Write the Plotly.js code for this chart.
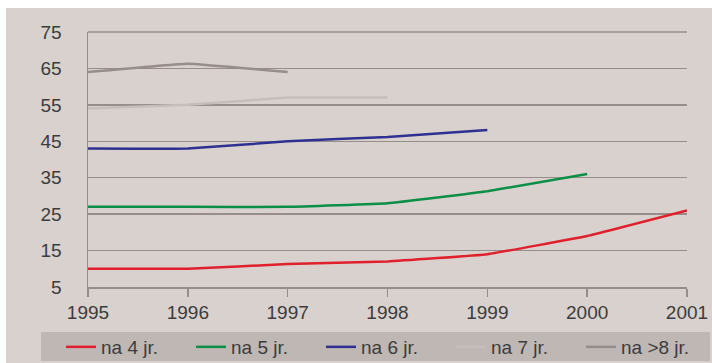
<!DOCTYPE html>
<html><head><meta charset="utf-8">
<script src="https://cdn.plot.ly/plotly-3.0.1.min.js"></script>
<style>html,body{margin:0;padding:0;background:#fff;}#chart{width:712px;height:363px;}</style>
</head><body><div id="chart"></div>
<script>
const years = [1995, 1996, 1997, 1998, 1999, 2000, 2001];
const seriesNames = ["na 4 jr.", "na 5 jr.", "na 6 jr.", "na 7 jr.", "na >8 jr."];
const na4 = [10, 10, 11.3, 12, 14, 19, 26];
const na5 = [27, 27, 27, 28, 31.3, 36];
const na6 = [43, 43, 45, 46.2, 48.1];
const na7 = [54, 55, 57, 57];
const na8 = [64, 66.3, 64];
const colors = ["#e0202c", "#0b8f47", "#2e3192", "#c6bebb", "#978d8a"];
const allSeries = [na4, na5, na6, na7, na8];

const traces = allSeries.map((vals, i) => ({
  type: "scatter", mode: "lines",
  x: years.slice(0, vals.length), y: vals,
  name: seriesNames[i],
  line: {color: colors[i], width: 2.5, shape: "spline", smoothing: 0.25}
}));

const L = 88, R = 687, T = 32, B = 287;
const W = R - L, H = B - T;
const px = v => (v - L) / W;
const py = v => (B - v) / H;

const layout = {
  width: 712, height: 363,
  margin: {l: L, r: 712 - R, t: T, b: 363 - B, pad: 0, autoexpand: false},
  paper_bgcolor: "#ffffff",
  plot_bgcolor: "rgba(0,0,0,0)",
  font: {family: "Liberation Sans, Arial, sans-serif", size: 19, color: "#3c3c3c"},
  showlegend: true,
  xaxis: {
    range: [1995, 2001], tickvals: years, ticktext: years.map(String),
    showgrid: false, gridcolor: "rgba(0,0,0,0)", zeroline: false,
    showline: true, linecolor: "#978d8a", linewidth: 1.5,
    ticks: "outside", ticklen: 8, tickcolor: "#978d8a", tickwidth: 1.5,
    tickfont: {size: 19, color: "#3c3c3c"}
  },
  yaxis: {
    range: [5, 75], tickvals: [5, 15, 25, 35, 45, 55, 65, 75],
    showgrid: true, gridcolor: "#978d8a", gridwidth: 1.5,
    zeroline: false, showline: true, linecolor: "#978d8a", linewidth: 1.5,
    ticks: "", ticklabelstandoff: 21,
    tickfont: {size: 19, color: "#3c3c3c"}
  },
  legend: {
    orientation: "h", x: px(61), xanchor: "left", y: py(328), yanchor: "top",
    bgcolor: "rgba(0,0,0,0)", font: {size: 19, color: "#3c3c3c"},
    entrywidth: 85, entrywidthmode: "pixels", itemwidth: 30
  },
  shapes: [
    {type: "rect", xref: "paper", yref: "paper", layer: "below",
     x0: px(6), x1: px(712), y0: py(363), y1: py(8),
     fillcolor: "#d9d1ce", line: {width: 0}},
    {type: "rect", xref: "paper", yref: "paper", layer: "below",
     x0: px(41), x1: px(710), y0: py(361), y1: py(332),
     fillcolor: "#bfb7b4", line: {width: 0}},
    {type: "line", xref: "paper", yref: "paper", layer: "below",
     x0: 0, x1: 1, y0: 1, y1: 1, line: {color: "#978d8a", width: 1.5}}
  ]
};
Plotly.newPlot("chart", traces, layout, {displayModeBar: false, staticPlot: true});
</script></body></html>
